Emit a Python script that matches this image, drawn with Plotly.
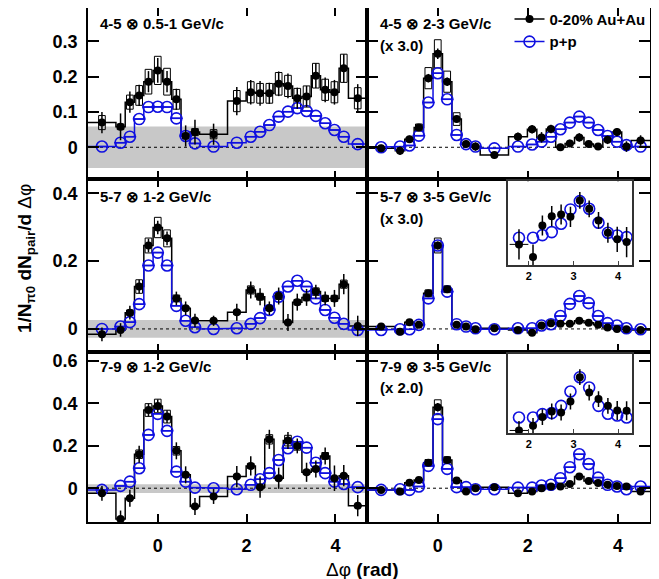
import plotly.graph_objects as go
from plotly.subplots import make_subplots

# ---------------- data ----------------
dphi = [-1.257, -0.838, -0.628, -0.419, -0.209, 0.0, 0.209, 0.419, 0.628, 0.838,
        1.257, 1.780, 2.094, 2.304, 2.513, 2.723, 2.932, 3.142, 3.351, 3.560,
        3.770, 3.979, 4.189, 4.503]
edges = [-1.571, -0.942, -0.733, -0.524, -0.314, -0.105, 0.105, 0.314, 0.524, 0.733,
         0.942, 1.571, 1.990, 2.199, 2.409, 2.618, 2.827, 3.037, 3.246, 3.456,
         3.665, 3.875, 4.084, 4.294, 4.712]

# Row 1 left: 4-5 x 0.5-1 GeV/c
auau_a1 = [0.070, 0.058, 0.128, 0.147, 0.186, 0.218, 0.186, 0.136, 0.032, 0.043,
           0.037, 0.131, 0.156, 0.153, 0.153, 0.180, 0.174, 0.139, 0.144, 0.203,
           0.163, 0.156, 0.224, 0.139]
stat_a1 = [0.030, 0.038, 0.030, 0.030, 0.030, 0.035, 0.030, 0.030, 0.030, 0.035,
           0.030, 0.040, 0.035, 0.035, 0.030, 0.035, 0.035, 0.030, 0.030, 0.035,
           0.035, 0.035, 0.040, 0.040]
sys_a1 = [0.020, 0.008, 0.020, 0.028, 0.035, 0.040, 0.038, 0.028, 0.008, 0.010,
          0.013, 0.030, 0.030, 0.028, 0.028, 0.032, 0.030, 0.028, 0.030, 0.035,
          0.030, 0.030, 0.040, 0.030]
pp_a1 = [0.002, 0.013, 0.030, 0.080, 0.114, 0.115, 0.114, 0.082, 0.032, 0.011,
         0.002, 0.013, 0.030, 0.044, 0.063, 0.087, 0.101, 0.111, 0.103, 0.089,
         0.068, 0.049, 0.030, 0.009]

# Row 1 right: 4-5 x 2-3 GeV/c (x 3.0)
auau_a2 = [-0.003, -0.010, 0.023, 0.056, 0.196, 0.265, 0.186, 0.080, 0.009, 0.002,
           -0.022, 0.030, 0.051, 0.028, 0.052, 0.000, 0.011, 0.028, 0.009, 0.002,
           0.021, 0.043, 0.002, 0.019]
stat_a2 = [0.010, 0.012, 0.010, 0.010, 0.012, 0.015, 0.012, 0.010, 0.010, 0.012,
           0.010, 0.012, 0.012, 0.015, 0.012, 0.010, 0.010, 0.012, 0.010, 0.010,
           0.012, 0.012, 0.015, 0.015]
sys_a2 = [0.003, 0.003, 0.005, 0.010, 0.030, 0.040, 0.030, 0.018, 0.004, 0.003,
          0.003, 0.004, 0.005, 0.004, 0.005, 0.003, 0.003, 0.004, 0.003, 0.003,
          0.004, 0.005, 0.003, 0.004]
pp_a2 = [0.000, 0.002, 0.005, 0.033, 0.127, 0.210, 0.136, 0.035, 0.009, 0.002,
         -0.003, 0.002, 0.008, 0.016, 0.030, 0.051, 0.070, 0.087, 0.070, 0.049,
         0.032, 0.016, 0.006, 0.002]

# Row 2 left: 5-7 x 1-2 GeV/c
auau_b1 = [-0.016, -0.003, 0.048, 0.125, 0.246, 0.299, 0.267, 0.090, 0.061, 0.025,
           0.024, 0.049, 0.115, 0.095, 0.061, 0.097, 0.019, 0.079, 0.093, 0.110,
           0.090, 0.090, 0.132, 0.009]
stat_b1 = [0.020, 0.020, 0.020, 0.020, 0.020, 0.020, 0.020, 0.020, 0.020, 0.020,
           0.015, 0.025, 0.025, 0.025, 0.020, 0.025, 0.025, 0.025, 0.025, 0.020,
           0.020, 0.025, 0.030, 0.030]
sys_b1 = [0.004, 0.004, 0.008, 0.020, 0.022, 0.030, 0.025, 0.010, 0.006, 0.004,
          0.004, 0.006, 0.012, 0.010, 0.007, 0.010, 0.004, 0.008, 0.010, 0.011,
          0.009, 0.009, 0.012, 0.004]
pp_b1 = [0.000, 0.007, 0.020, 0.073, 0.187, 0.225, 0.187, 0.068, 0.024, 0.005,
         0.000, 0.002, 0.015, 0.032, 0.056, 0.095, 0.125, 0.142, 0.125, 0.090,
         0.056, 0.033, 0.015, -0.003]

# Row 2 right: 5-7 x 3-5 GeV/c (x 3.0)
auau_b2 = [0.007, -0.008, 0.020, 0.012, 0.105, 0.246, 0.117, 0.012, 0.007, -0.001,
           0.002, -0.003, -0.011, 0.010, 0.017, 0.015, 0.015, 0.024, 0.018, 0.012,
           0.004, 0.000, -0.001, -0.003]
stat_b2 = [0.008, 0.008, 0.008, 0.008, 0.010, 0.012, 0.010, 0.008, 0.008, 0.008,
           0.006, 0.008, 0.010, 0.008, 0.008, 0.008, 0.008, 0.008, 0.008, 0.008,
           0.008, 0.008, 0.008, 0.008]
sys_b2 = [0.002, 0.002, 0.003, 0.003, 0.010, 0.022, 0.010, 0.003, 0.002, 0.002,
          0.002, 0.002, 0.002, 0.002, 0.003, 0.003, 0.003, 0.003, 0.003, 0.002,
          0.002, 0.002, 0.002, 0.002]
pp_b2 = [-0.003, -0.001, -0.001, 0.012, 0.090, 0.246, 0.110, 0.014, 0.007, 0.002,
         -0.001, 0.002, 0.002, 0.010, 0.014, 0.038, 0.074, 0.097, 0.076, 0.038,
         0.017, 0.010, 0.002, -0.001]

# Row 3 left: 7-9 x 1-2 GeV/c
auau_c1 = [-0.024, -0.145, -0.047, 0.160, 0.368, 0.387, 0.337, 0.176, 0.063, -0.086,
           -0.039, 0.055, 0.105, 0.005, 0.230, 0.047, 0.224, 0.199, 0.075, 0.091,
           0.152, 0.047, 0.059, -0.082]
stat_c1 = [0.035, 0.040, 0.040, 0.040, 0.030, 0.030, 0.030, 0.040, 0.040, 0.040,
           0.035, 0.050, 0.045, 0.050, 0.045, 0.050, 0.040, 0.035, 0.045, 0.040,
           0.040, 0.060, 0.050, 0.050]
sys_c1 = [0.005, 0.008, 0.006, 0.020, 0.030, 0.032, 0.030, 0.020, 0.008, 0.006,
          0.005, 0.008, 0.012, 0.004, 0.022, 0.008, 0.025, 0.020, 0.010, 0.012,
          0.016, 0.008, 0.008, 0.006]
pp_c1 = [-0.008, 0.011, 0.031, 0.094, 0.251, 0.350, 0.270, 0.078, 0.031, 0.003,
         0.000, -0.005, 0.016, 0.042, 0.071, 0.133, 0.188, 0.219, 0.191, 0.120,
         0.071, 0.031, 0.020, 0.005]

# Row 3 right: 7-9 x 3-5 GeV/c (x 2.0)
auau_c2 = [-0.008, -0.016, 0.026, 0.039, 0.120, 0.381, 0.133, 0.036, -0.016, 0.000,
           0.005, -0.024, -0.016, 0.000, 0.008, 0.008, 0.020, 0.055, 0.034, 0.024,
           0.016, 0.011, 0.008, -0.016]
stat_c2 = [0.012, 0.012, 0.012, 0.012, 0.015, 0.020, 0.015, 0.012, 0.012, 0.012,
           0.010, 0.012, 0.012, 0.012, 0.012, 0.012, 0.012, 0.012, 0.012, 0.012,
           0.012, 0.012, 0.012, 0.012]
sys_c2 = [0.003, 0.003, 0.004, 0.005, 0.015, 0.035, 0.015, 0.005, 0.003, 0.003,
          0.003, 0.003, 0.003, 0.003, 0.003, 0.003, 0.003, 0.004, 0.003, 0.003,
          0.003, 0.003, 0.003, 0.003]
pp_c2 = [-0.008, -0.005, -0.008, 0.008, 0.105, 0.325, 0.091, 0.005, 0.005, -0.005,
         -0.005, 0.003, 0.003, 0.013, 0.016, 0.047, 0.099, 0.160, 0.114, 0.050,
         0.016, 0.008, -0.005, 0.008]

# Insets (away side, arbitrary units)
inset_x = [1.780, 2.094, 2.304, 2.513, 2.723, 2.932, 3.142, 3.351, 3.560, 3.770, 3.979, 4.189]
inset_b_auau = [0.246, 0.095, 0.472, 0.583, 0.603, 0.575, 0.770, 0.671, 0.532, 0.385, 0.306, 0.274]
inset_b_stat = [0.18, 0.15, 0.12, 0.12, 0.12, 0.12, 0.10, 0.10, 0.10, 0.12, 0.15, 0.18]
inset_b_pp = [0.325, 0.325, 0.357, 0.393, 0.492, 0.663, 0.762, 0.671, 0.504, 0.385, 0.353, 0.333]
inset_c_auau = [0.033, 0.092, 0.202, 0.273, 0.260, 0.399, 0.706, 0.512, 0.429, 0.344, 0.285, 0.281]
inset_c_stat = [0.12, 0.10, 0.10, 0.10, 0.10, 0.10, 0.10, 0.10, 0.10, 0.10, 0.12, 0.12]
inset_c_pp = [0.197, 0.197, 0.240, 0.252, 0.344, 0.525, 0.706, 0.575, 0.344, 0.244, 0.222, 0.197]
inset_xerr = [0.21, 0, 0, 0, 0, 0, 0, 0, 0, 0, 0, 0]

panel_labels = ["4-5 \u2297 0.5-1 GeV/c", "4-5 \u2297 2-3 GeV/c",
                "5-7 \u2297 1-2 GeV/c", "5-7 \u2297 3-5 GeV/c",
                "7-9 \u2297 1-2 GeV/c", "7-9 \u2297 3-5 GeV/c"]
scale_labels = [None, "(x 3.0)", None, "(x 3.0)", None, "(x 2.0)"]
band_halfwidth = [0.059, 0.026, 0.021]
band_center = [0.0, 0.0, -0.002]

panels = [
    (1, 1, auau_a1, stat_a1, sys_a1, pp_a1),
    (1, 2, auau_a2, stat_a2, sys_a2, pp_a2),
    (2, 1, auau_b1, stat_b1, sys_b1, pp_b1),
    (2, 2, auau_b2, stat_b2, sys_b2, pp_b2),
    (3, 1, auau_c1, stat_c1, sys_c1, pp_c1),
    (3, 2, auau_c2, stat_c2, sys_c2, pp_c2),
]

BLUE = "#1010e0"
FONT = "Liberation Sans, Arial, Helvetica, sans-serif"


def steps(e, v):
    xs, ys = [], []
    for i, val in enumerate(v):
        xs += [e[i], e[i + 1]]
        ys += [val, val]
    return xs, ys


def boxes(xc, yc, s, hw=0.075):
    xs, ys = [], []
    for x, y, d in zip(xc, yc, s):
        xs += [x - hw, x + hw, x + hw, x - hw, x - hw, None]
        ys += [y - d, y - d, y + d, y + d, y - d, None]
    return xs, ys


fig = make_subplots(rows=3, cols=2, shared_xaxes=True, shared_yaxes=True,
                    horizontal_spacing=0, vertical_spacing=0,
                    column_widths=[279, 283], row_heights=[171, 173, 170])

for r, c, au, st, sy, pp in panels:
    # gray normalisation band (left column only)
    if c == 1:
        xr = "x" if r == 1 else f"x{(r - 1) * 2 + 1}"
        yr = "y" if r == 1 else f"y{(r - 1) * 2 + 1}"
        fig.add_shape(type="rect", xref=f"{xr} domain", yref=yr, x0=0, x1=1,
                      y0=band_center[r - 1] - band_halfwidth[r - 1],
                      y1=band_center[r - 1] + band_halfwidth[r - 1],
                      fillcolor="#c8c8c8", line_width=0, layer="below")
    idx = (r - 1) * 2 + c
    xr = "x" if idx == 1 else f"x{idx}"
    yr = "y" if idx == 1 else f"y{idx}"
    fig.add_shape(type="line", xref=f"{xr} domain", yref=yr, x0=0, x1=1, y0=0, y1=0,
                  line=dict(color="black", width=1, dash="dot"), layer="below")

    sx, sy_ = steps(edges, au)
    fig.add_trace(go.Scatter(x=sx, y=sy_, mode="lines", line=dict(color="black", width=1.5),
                             showlegend=False, hoverinfo="skip"), row=r, col=c)
    bx, by = boxes(dphi, au, sy)
    fig.add_trace(go.Scatter(x=bx, y=by, mode="lines", line=dict(color="black", width=1),
                             showlegend=False, hoverinfo="skip"), row=r, col=c)
    px_, py_ = steps(edges, pp)
    fig.add_trace(go.Scatter(x=px_, y=py_, mode="lines", line=dict(color=BLUE, width=1.5),
                             showlegend=False, hoverinfo="skip"), row=r, col=c)
    fig.add_trace(go.Scatter(x=dphi, y=pp, mode="markers",
                             marker=dict(symbol="line-ew", size=9, line=dict(color=BLUE, width=1.5)),
                             showlegend=False, hoverinfo="skip"), row=r, col=c)
    fig.add_trace(go.Scatter(x=dphi, y=pp, mode="markers",
                             marker=dict(symbol="circle-open", size=11, color=BLUE,
                                         line=dict(color=BLUE, width=1.6)),
                             showlegend=False), row=r, col=c)
    fig.add_trace(go.Scatter(x=dphi, y=au, mode="markers",
                             marker=dict(symbol="circle", size=8, color="black"),
                             error_y=dict(type="data", array=st, width=0, thickness=1.5, color="black"),
                             showlegend=False), row=r, col=c)

# legend entries
fig.add_trace(go.Scatter(x=[None], y=[None], mode="lines+markers", name="0-20% Au+Au",
                         marker=dict(symbol="circle", size=8, color="black"),
                         line=dict(color="black", width=1.5)), row=1, col=2)
fig.add_trace(go.Scatter(x=[None], y=[None], mode="lines+markers", name="p+p",
                         marker=dict(symbol="circle-open", size=11, color=BLUE,
                                     line=dict(color=BLUE, width=1.6)),
                         line=dict(color=BLUE, width=1.5)), row=1, col=2)

# insets
for ax, xd, yd, au, st, pp in [
    (7, [0.747, 0.968], [0.500, 0.663], inset_b_auau, inset_b_stat, inset_b_pp),
    (8, [0.747, 0.968], [0.173, 0.327], inset_c_auau, inset_c_stat, inset_c_pp),
]:
    fig.add_trace(go.Scatter(x=inset_x, y=pp, mode="markers", xaxis=f"x{ax}", yaxis=f"y{ax}",
                             marker=dict(symbol="circle-open", size=11, color=BLUE,
                                         line=dict(color=BLUE, width=1.6)),
                             showlegend=False))
    fig.add_trace(go.Scatter(x=inset_x, y=au, mode="markers", xaxis=f"x{ax}", yaxis=f"y{ax}",
                             marker=dict(symbol="circle", size=8, color="black"),
                             error_y=dict(type="data", array=st, width=0, thickness=1.5, color="black"),
                             error_x=dict(type="data", array=inset_xerr, width=0, thickness=1, color="black"),
                             showlegend=False))
    fig.layout[f"xaxis{ax}"] = dict(domain=xd, anchor=f"y{ax}", range=[1.53, 4.31],
                                    tickvals=[2, 3, 4], ticks="inside", ticklen=4,
                                    showline=True, linecolor="#333", linewidth=1.5, mirror=True,
                                    showgrid=False, zeroline=False, automargin=False,
                                    tickfont=dict(family=FONT, size=11, color="black", weight="bold"))
    fig.layout[f"yaxis{ax}"] = dict(domain=yd, anchor=f"x{ax}", range=[0, 1],
                                    showticklabels=False, ticks="",
                                    showline=True, linecolor="#333", linewidth=1.5, mirror=True,
                                    showgrid=False, zeroline=False, automargin=False)

# axes styling
yranges = [[-0.09, 0.395], [-0.068, 0.442], [-0.159, 0.641]]
ydticks = [0.1, 0.2, 0.2]
for i in range(1, 7):
    r = (i - 1) // 2 + 1
    xk = "xaxis" if i == 1 else f"xaxis{i}"
    yk = "yaxis" if i == 1 else f"yaxis{i}"
    fig.layout[xk].update(range=[-1.571, 4.712], dtick=2, tick0=0, ticks="inside", ticklen=8,
                          tickwidth=1.5, tickcolor="black", showline=True, linecolor="black",
                          linewidth=1.5, mirror="ticks", showgrid=False, zeroline=False,
                          ticklabelstandoff=7, automargin=False,
                          tickfont=dict(family=FONT, size=18, color="black", weight="bold"))
    fig.layout[yk].update(range=yranges[r - 1], dtick=ydticks[r - 1], tick0=0, ticks="inside",
                          ticklen=11, tickwidth=1.5, tickcolor="black", showline=True,
                          linecolor="black", linewidth=1.5, mirror="ticks", showgrid=False,
                          zeroline=False, ticklabelstandoff=5, automargin=False,
                          tickfont=dict(family=FONT, size=18, color="black", weight="bold"))

# panel labels
label_pos = [(0.018, 0.969), (0.516, 0.969), (0.018, 0.633), (0.516, 0.633),
             (0.018, 0.302), (0.516, 0.302)]
scale_pos = [None, 0.928, None, 0.591, None, 0.261]
for k in range(6):
    fig.add_annotation(x=label_pos[k][0], y=label_pos[k][1], xref="paper", yref="paper",
                       text=f"<b>{panel_labels[k]}</b>", showarrow=False, xanchor="left",
                       yanchor="middle", font=dict(family=FONT, size=15, color="black"))
    if scale_labels[k]:
        fig.add_annotation(x=label_pos[k][0], y=scale_pos[k], xref="paper", yref="paper",
                           text=f"<b>{scale_labels[k]}</b>", showarrow=False, xanchor="left",
                           yanchor="middle", font=dict(family=FONT, size=15, color="black"))

fig.add_annotation(x=-0.11, y=0.512, xref="paper", yref="paper", textangle=-90,
                   xanchor="center", yanchor="middle",
                   text="<b>1/N<sub>\u03c00</sub> dN<sub>pair</sub>/d</b> \u0394\u03c6",
                   showarrow=False, font=dict(family=FONT, size=19, color="black"))
fig.add_annotation(x=0.489, y=-0.092, xref="paper", yref="paper",
                   xanchor="center", yanchor="middle",
                   text="\u0394\u03c6 <b>(rad)</b>", showarrow=False,
                   font=dict(family=FONT, size=19, color="black"))

# page body has an 8px margin: figure sized so the plot area lands at x 88-650, y 8-522
fig.update_layout(template="none", width=651, height=571,
                  plot_bgcolor="white", paper_bgcolor="white",
                  margin=dict(l=80, r=9, t=0, b=57, autoexpand=False),
                  legend=dict(x=0.75, y=1.01, xanchor="left", yanchor="top",
                              bgcolor="rgba(0,0,0,0)", itemwidth=30,
                              font=dict(family=FONT, size=15, color="black", weight="bold"),
                              tracegroupgap=0),
                  font=dict(family=FONT))

fig.write_html("out.html")
